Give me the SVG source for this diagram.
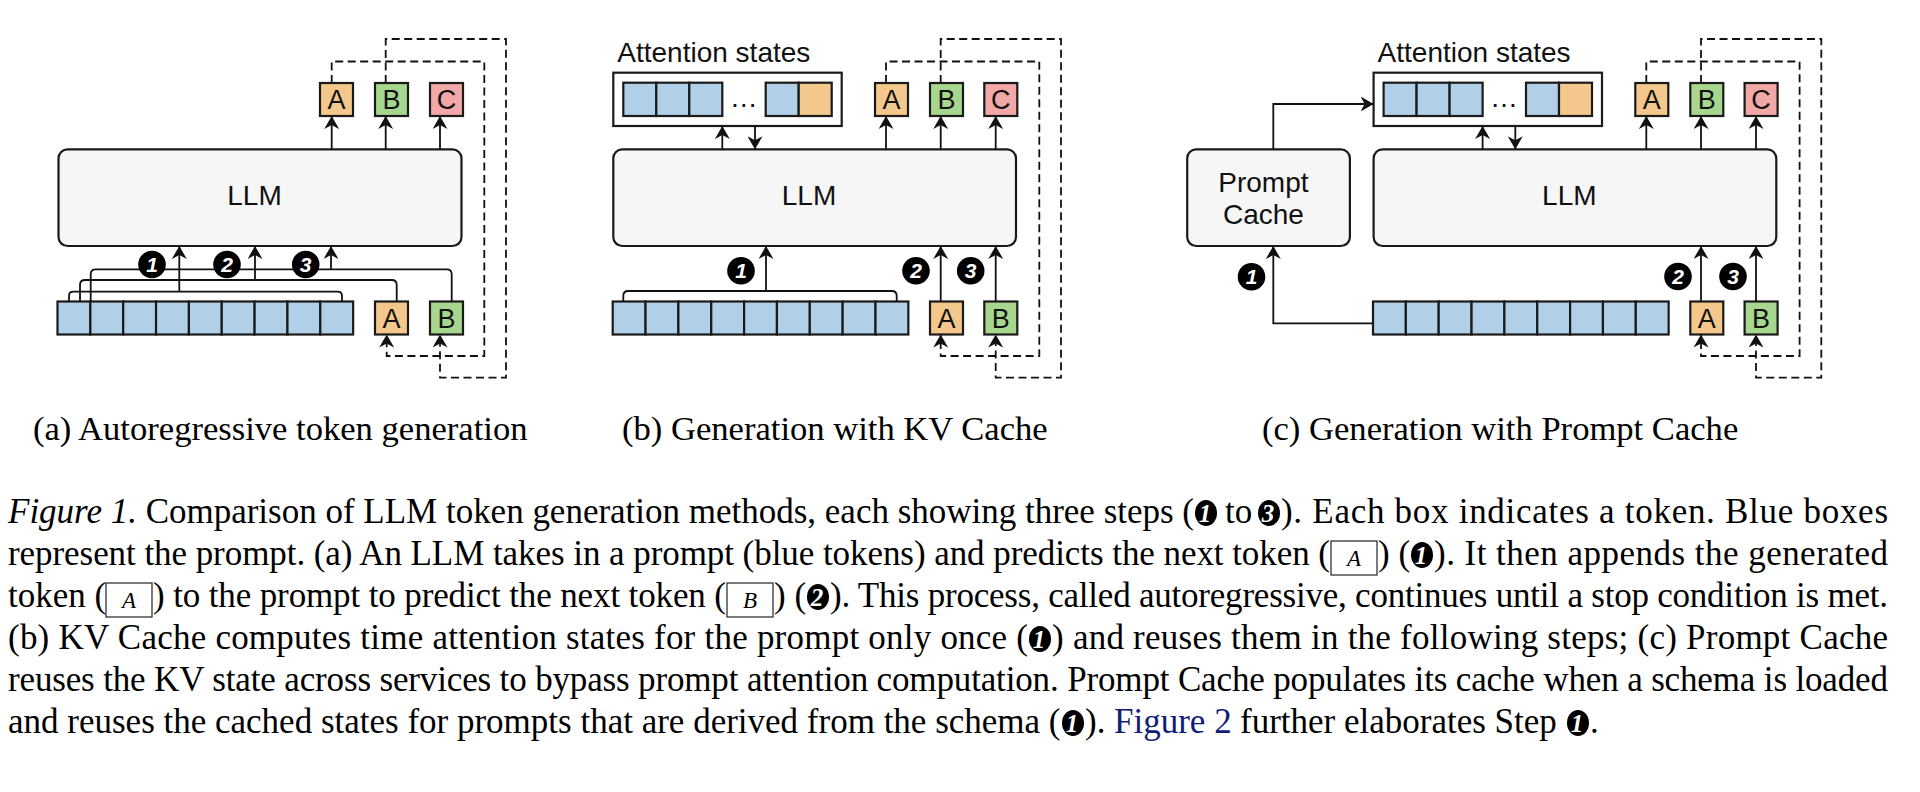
<svg xmlns="http://www.w3.org/2000/svg" width="1920" height="792" viewBox="0 0 1920 792">
<style>
.bg{fill:#fff}
.tok{stroke:#1a1a1a;stroke-width:2.2}
.blue{fill:#b1d0e8}.orange{fill:#f4c88c}.green{fill:#a7d78e}.pink{fill:#f1a8a6}
.box{fill:#f6f6f6;stroke:#1a1a1a;stroke-width:2.2}
.att{fill:#fff;stroke:#1a1a1a;stroke-width:2.2}
.sans{font-family:"Liberation Sans",Arial,sans-serif;fill:#111}
.tl{font-size:27px;text-anchor:middle}
.big{font-size:28px;text-anchor:middle}
.conn{fill:none;stroke:#111;stroke-width:1.8}
.dash{stroke-dasharray:8 4.5}
.num circle{fill:#000}
.num text{fill:#fff;font-family:"Liberation Sans",Arial,sans-serif;font-weight:bold;font-style:italic;font-size:21px;text-anchor:middle}
.cap{font-family:"Liberation Serif","Times New Roman",serif;font-size:35px;fill:#000}
.sub{font-family:"Liberation Serif","Times New Roman",serif;font-size:34.6px;fill:#000}
.cn ellipse{fill:#000}
.cn text{fill:#fff;font-family:"Liberation Serif","Times New Roman",serif;font-weight:bold;font-style:italic;font-size:25px;text-anchor:middle}
.ib rect{fill:none;stroke:#333;stroke-width:1.3}
.ib text{font-family:"Liberation Serif","Times New Roman",serif;font-style:italic;font-size:23px;text-anchor:middle;fill:#000}
</style>
<defs>
<marker id="ah" viewBox="0 0 13 15" refX="13" refY="7.5" markerWidth="13" markerHeight="15" markerUnits="userSpaceOnUse" orient="auto">
<path d="M13,7.5 L0,0 L4,7.5 L0,15 Z" fill="#111"/>
</marker>
</defs>
<rect class="bg" x="0" y="0" width="1920" height="792"/>

<!-- ================= Panel (a) ================= -->
<g id="a-llm"><rect class="box" x="58.5" y="149.3" width="403" height="96.7" rx="9"/><text class="sans big" x="254.5" y="205">LLM</text></g>
<g id="a-out-A"><rect class="tok orange" x="320" y="83" width="33" height="33"/><text class="sans tl" x="336.5" y="109">A</text></g>
<g id="a-out-B"><rect class="tok green" x="375" y="83" width="33" height="33"/><text class="sans tl" x="391.5" y="109">B</text></g>
<g id="a-out-C"><rect class="tok pink" x="430" y="83" width="33" height="33"/><text class="sans tl" x="446.5" y="109">C</text></g>
<g id="a-prompt">
<rect class="tok blue" x="57.5" y="301.5" width="32.85" height="33"/>
<rect class="tok blue" x="90.35" y="301.5" width="32.85" height="33"/>
<rect class="tok blue" x="123.2" y="301.5" width="32.85" height="33"/>
<rect class="tok blue" x="156.05" y="301.5" width="32.85" height="33"/>
<rect class="tok blue" x="188.9" y="301.5" width="32.85" height="33"/>
<rect class="tok blue" x="221.75" y="301.5" width="32.85" height="33"/>
<rect class="tok blue" x="254.6" y="301.5" width="32.85" height="33"/>
<rect class="tok blue" x="287.45" y="301.5" width="32.85" height="33"/>
<rect class="tok blue" x="320.3" y="301.5" width="32.85" height="33"/>
</g>
<g id="a-in-A"><rect class="tok orange" x="375" y="301.5" width="33" height="33"/><text class="sans tl" x="391.5" y="327.5">A</text></g>
<g id="a-in-B"><rect class="tok green" x="430" y="301.5" width="33" height="33"/><text class="sans tl" x="446.5" y="327.5">B</text></g>

<!-- ================= Panel (b) ================= -->
<g id="b-att-label"><text class="sans" x="617.3" y="61.7" font-size="28">Attention states</text></g>
<g id="b-att">
<rect class="att" x="613.3" y="72.7" width="228.4" height="53.3"/>
<rect class="tok blue" x="623.3" y="82.7" width="33" height="33.3"/>
<rect class="tok blue" x="656.3" y="82.7" width="33" height="33.3"/>
<rect class="tok blue" x="689.3" y="82.7" width="33" height="33.3"/>
<text class="sans" x="743.7" y="107" font-size="28" text-anchor="middle">…</text>
<rect class="tok blue" x="765.7" y="82.7" width="33" height="33.3"/>
<rect class="tok orange" x="798.7" y="82.7" width="33" height="33.3"/>
</g>
<g id="b-llm"><rect class="box" x="613.3" y="149.3" width="402.7" height="96.7" rx="9"/><text class="sans big" x="809" y="205">LLM</text></g>
<g id="b-out-A"><rect class="tok orange" x="875" y="83" width="33" height="33"/><text class="sans tl" x="891.5" y="109">A</text></g>
<g id="b-out-B"><rect class="tok green" x="930" y="83" width="33" height="33"/><text class="sans tl" x="946.5" y="109">B</text></g>
<g id="b-out-C"><rect class="tok pink" x="984.3" y="83" width="33" height="33"/><text class="sans tl" x="1000.8" y="109">C</text></g>
<g id="b-prompt">
<rect class="tok blue" x="612.7" y="301.5" width="32.85" height="33"/>
<rect class="tok blue" x="645.55" y="301.5" width="32.85" height="33"/>
<rect class="tok blue" x="678.4" y="301.5" width="32.85" height="33"/>
<rect class="tok blue" x="711.25" y="301.5" width="32.85" height="33"/>
<rect class="tok blue" x="744.1" y="301.5" width="32.85" height="33"/>
<rect class="tok blue" x="776.95" y="301.5" width="32.85" height="33"/>
<rect class="tok blue" x="809.8" y="301.5" width="32.85" height="33"/>
<rect class="tok blue" x="842.65" y="301.5" width="32.85" height="33"/>
<rect class="tok blue" x="875.5" y="301.5" width="32.85" height="33"/>
</g>
<g id="b-in-A"><rect class="tok orange" x="930" y="301.5" width="33" height="33"/><text class="sans tl" x="946.5" y="327.5">A</text></g>
<g id="b-in-B"><rect class="tok green" x="984.3" y="301.5" width="33" height="33"/><text class="sans tl" x="1000.8" y="327.5">B</text></g>

<!-- ================= Panel (c) ================= -->
<g id="c-att-label"><text class="sans" x="1377.6" y="61.7" font-size="28">Attention states</text></g>
<g id="c-att">
<rect class="att" x="1373.6" y="72.7" width="228.4" height="53.3"/>
<rect class="tok blue" x="1383.6" y="82.7" width="33" height="33.3"/>
<rect class="tok blue" x="1416.6" y="82.7" width="33" height="33.3"/>
<rect class="tok blue" x="1449.6" y="82.7" width="33" height="33.3"/>
<text class="sans" x="1504" y="107" font-size="28" text-anchor="middle">…</text>
<rect class="tok blue" x="1526" y="82.7" width="33" height="33.3"/>
<rect class="tok orange" x="1559" y="82.7" width="33" height="33.3"/>
</g>
<g id="c-cache"><rect class="box" x="1187.2" y="149.3" width="162.7" height="96.7" rx="9"/><text class="sans big" x="1263.4" y="192">Prompt</text><text class="sans big" x="1263.4" y="224">Cache</text></g>
<g id="c-llm"><rect class="box" x="1373.6" y="149.3" width="402.7" height="96.7" rx="9"/><text class="sans big" x="1569.3" y="205">LLM</text></g>
<g id="c-out-A"><rect class="tok orange" x="1635.3" y="83" width="33" height="33"/><text class="sans tl" x="1651.8" y="109">A</text></g>
<g id="c-out-B"><rect class="tok green" x="1690.3" y="83" width="33" height="33"/><text class="sans tl" x="1706.8" y="109">B</text></g>
<g id="c-out-C"><rect class="tok pink" x="1744.6" y="83" width="33" height="33"/><text class="sans tl" x="1761.1" y="109">C</text></g>
<g id="c-prompt">
<rect class="tok blue" x="1373" y="301.5" width="32.85" height="33"/>
<rect class="tok blue" x="1405.85" y="301.5" width="32.85" height="33"/>
<rect class="tok blue" x="1438.7" y="301.5" width="32.85" height="33"/>
<rect class="tok blue" x="1471.55" y="301.5" width="32.85" height="33"/>
<rect class="tok blue" x="1504.4" y="301.5" width="32.85" height="33"/>
<rect class="tok blue" x="1537.25" y="301.5" width="32.85" height="33"/>
<rect class="tok blue" x="1570.1" y="301.5" width="32.85" height="33"/>
<rect class="tok blue" x="1602.95" y="301.5" width="32.85" height="33"/>
<rect class="tok blue" x="1635.8" y="301.5" width="32.85" height="33"/>
</g>
<g id="c-in-A"><rect class="tok orange" x="1690.3" y="301.5" width="33" height="33"/><text class="sans tl" x="1706.8" y="327.5">A</text></g>
<g id="c-in-B"><rect class="tok green" x="1744.6" y="301.5" width="33" height="33"/><text class="sans tl" x="1761.1" y="327.5">B</text></g>

<!-- ================= Connectors ================= -->
<g id="connectors">
<!-- (a) -->
<path class="conn" d="M331.7,149.3 V116" marker-end="url(#ah)"/>
<path class="conn" d="M385.7,149.3 V116" marker-end="url(#ah)"/>
<path class="conn" d="M440,149.3 V116" marker-end="url(#ah)"/>
<path class="conn" d="M69,301.5 V296 Q69,291.7 73.3,291.7 H337.7 Q342,291.7 342,296 V301.5"/>
<path class="conn" d="M179.3,291.7 V246" marker-end="url(#ah)"/>
<path class="conn" d="M80,301.5 V285 Q80,280 85,280 H391.7 Q396.7,280 396.7,285 V301.5"/>
<path class="conn" d="M255,280 V246" marker-end="url(#ah)"/>
<path class="conn" d="M90.7,301.5 V274.3 Q90.7,269.3 95.7,269.3 H446.7 Q451.7,269.3 451.7,274.3 V301.5"/>
<path class="conn" d="M331,269.3 V246" marker-end="url(#ah)"/>
<path class="conn dash" d="M331.7,83 V61.5 H484.3 V356 H386.7 V334.5" marker-end="url(#ah)"/>
<path class="conn dash" d="M385.7,83 V39 H506 V377.7 H440 V334.5" marker-end="url(#ah)"/>
<!-- (b) -->
<path class="conn" d="M722.3,149.3 V126" marker-end="url(#ah)"/>
<path class="conn" d="M755,126 V149.3" marker-end="url(#ah)"/>
<path class="conn" d="M886,149.3 V116" marker-end="url(#ah)"/>
<path class="conn" d="M940.7,149.3 V116" marker-end="url(#ah)"/>
<path class="conn" d="M995.7,149.3 V116" marker-end="url(#ah)"/>
<path class="conn" d="M623.3,301.5 V296 Q623.3,291 628.3,291 H891.7 Q896.7,291 896.7,296 V301.5"/>
<path class="conn" d="M766,291 V246" marker-end="url(#ah)"/>
<path class="conn" d="M940.7,301.5 V246" marker-end="url(#ah)"/>
<path class="conn" d="M995.7,301.5 V246" marker-end="url(#ah)"/>
<path class="conn dash" d="M886,83 V61.5 H1039.3 V356 H940.7 V334.5" marker-end="url(#ah)"/>
<path class="conn dash" d="M940.7,83 V39 H1061 V377.7 H995.7 V334.5" marker-end="url(#ah)"/>
<!-- (c) -->
<path class="conn" d="M1482.6,149.3 V126" marker-end="url(#ah)"/>
<path class="conn" d="M1515.3,126 V149.3" marker-end="url(#ah)"/>
<path class="conn" d="M1646.3,149.3 V116" marker-end="url(#ah)"/>
<path class="conn" d="M1701,149.3 V116" marker-end="url(#ah)"/>
<path class="conn" d="M1756,149.3 V116" marker-end="url(#ah)"/>
<path class="conn" d="M1701,301.5 V246" marker-end="url(#ah)"/>
<path class="conn" d="M1756,301.5 V246" marker-end="url(#ah)"/>
<path class="conn" d="M1273.3,149.3 V104 H1373.6" marker-end="url(#ah)"/>
<path class="conn" d="M1373,323.3 H1273.3 V246" marker-end="url(#ah)"/>
<path class="conn dash" d="M1646.3,83 V61.5 H1799.6 V356 H1701 V334.5" marker-end="url(#ah)"/>
<path class="conn dash" d="M1701,83 V39 H1821.3 V377.7 H1756 V334.5" marker-end="url(#ah)"/>
</g>

<!-- step markers -->
<g id="a-step1" class="num"><circle cx="152" cy="264.5" r="13.8"/><text x="152" y="272">1</text></g>
<g id="a-step2" class="num"><circle cx="227" cy="264.5" r="13.8"/><text x="227" y="272">2</text></g>
<g id="a-step3" class="num"><circle cx="305.7" cy="264.5" r="13.8"/><text x="305.7" y="272">3</text></g>
<g id="b-step1" class="num"><circle cx="741" cy="270.7" r="13.8"/><text x="741" y="278.2">1</text></g>
<g id="b-step2" class="num"><circle cx="916" cy="270.7" r="13.8"/><text x="916" y="278.2">2</text></g>
<g id="b-step3" class="num"><circle cx="970.7" cy="270.7" r="13.8"/><text x="970.7" y="278.2">3</text></g>
<g id="c-step1" class="num"><circle cx="1251.5" cy="276.7" r="13.8"/><text x="1251.5" y="284.2">1</text></g>
<g id="c-step2" class="num"><circle cx="1678" cy="276.5" r="13.8"/><text x="1678" y="284">2</text></g>
<g id="c-step3" class="num"><circle cx="1733" cy="276.5" r="13.8"/><text x="1733" y="284">3</text></g>

<!-- sub-captions -->
<g id="subcaptions">
<text class="sub" x="33" y="440">(a) Autoregressive token generation</text>
<text class="sub" x="622" y="440">(b) Generation with KV Cache</text>
<text class="sub" x="1262" y="440">(c) Generation with Prompt Cache</text>
</g>

<!-- caption -->
<g id="caption">
<!-- line 1 -->
<text class="cap" x="8" y="523" textLength="1186"><tspan font-style="italic">Figure 1.</tspan> Comparison of LLM token generation methods, each showing three steps (</text>
<g class="cn"><ellipse cx="1206" cy="513" rx="11" ry="13"/><text x="1205" y="522">1</text></g>
<text class="cap" x="1225" y="523">to</text>
<g class="cn"><ellipse cx="1269" cy="513" rx="11" ry="13"/><text x="1268" y="522">3</text></g>
<text class="cap" x="1281" y="523" textLength="607">). Each box indicates a token. Blue boxes</text>
<!-- line 2 -->
<text class="cap" x="8" y="565" textLength="1322">represent the prompt. (a) An LLM takes in a prompt (blue tokens) and predicts the next token (</text>
<g class="ib"><rect x="1331" y="541" width="46" height="34"/><text x="1354" y="566">A</text></g>
<text class="cap" x="1378" y="565">) (</text>
<g class="cn"><ellipse cx="1422" cy="555" rx="11" ry="13"/><text x="1421" y="564">1</text></g>
<text class="cap" x="1434" y="565" textLength="454">). It then appends the generated</text>
<!-- line 3 -->
<text class="cap" x="8" y="607">token (</text>
<g class="ib"><rect x="106" y="583" width="46" height="34"/><text x="129" y="608">A</text></g>
<text class="cap" x="153" y="607" textLength="573">) to the prompt to predict the next token (</text>
<g class="ib"><rect x="727" y="583" width="46" height="34"/><text x="750" y="608">B</text></g>
<text class="cap" x="774" y="607">) (</text>
<g class="cn"><ellipse cx="818" cy="597" rx="11" ry="13"/><text x="817" y="606">2</text></g>
<text class="cap" x="830" y="607" textLength="1058">). This process, called autoregressive, continues until a stop condition is met.</text>
<!-- line 4 -->
<text class="cap" x="8" y="649" textLength="1020">(b) KV Cache computes time attention states for the prompt only once (</text>
<g class="cn"><ellipse cx="1040" cy="639" rx="11" ry="13"/><text x="1039" y="648">1</text></g>
<text class="cap" x="1052" y="649" textLength="836">) and reuses them in the following steps; (c) Prompt Cache</text>
<!-- line 5 -->
<text class="cap" x="8" y="691" textLength="1880">reuses the KV state across services to bypass prompt attention computation. Prompt Cache populates its cache when a schema is loaded</text>
<!-- line 6 -->
<text class="cap" x="8" y="733">and reuses the cached states for prompts that are derived from the schema (</text>
<g class="cn"><ellipse cx="1073" cy="723" rx="11" ry="13"/><text x="1072" y="732">1</text></g>
<text class="cap" x="1085" y="733">).</text>
<text class="cap" x="1114" y="733" style="fill:#101c78">Figure 2</text>
<text class="cap" x="1240" y="733">further elaborates Step</text>
<g class="cn"><ellipse cx="1578" cy="723" rx="11" ry="13"/><text x="1577" y="732">1</text></g>
<text class="cap" x="1590" y="733">.</text>
</g>
</svg>
